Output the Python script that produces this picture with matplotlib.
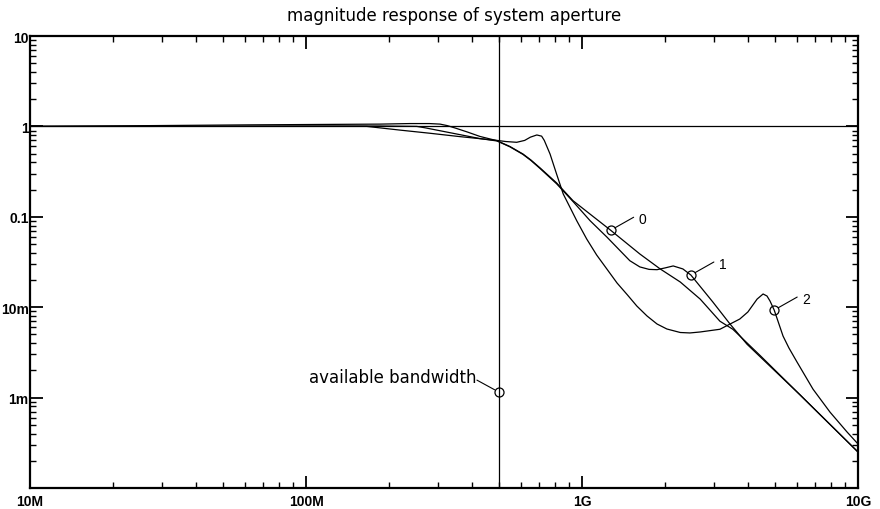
import matplotlib
matplotlib.use("Agg")
import matplotlib.pyplot as plt
from matplotlib.ticker import FixedLocator, LogLocator, NullFormatter

# ---- data ----
f0 = [1.0e7, 2.72e7, 6.27e7, 1.85e8, 2.38e8, 2.8e8, 3.06e8, 3.25e8, 3.47e8, 3.83e8,
      4.27e8, 4.92e8, 5.48e8, 6.11e8, 6.53e8, 7.05e8, 8.09e8, 9.27e8, 1.07e9, 1.27e9,
      1.62e9, 1.92e9, 2.27e9, 2.68e9, 3.16e9, 3.52e9, 4.42e9, 6.17e9, 1.0e10]
m0 = [1.0, 1.02, 1.04, 1.06, 1.075, 1.075, 1.06, 1.02, 0.96, 0.87,
      0.774, 0.695, 0.599, 0.495, 0.425, 0.347, 0.237, 0.151, 0.107, 0.071,
      0.0388, 0.0265, 0.019, 0.0123, 0.007, 0.0057, 0.00292, 0.00107, 0.00025]

f1 = [1.0e7, 2.72e7, 1.0e8, 1.85e8, 2.52e8, 2.7e8, 3.33e8, 4.27e8, 4.92e8, 5.48e8,
      6.11e8, 6.53e8, 7.05e8, 8.09e8, 9.27e8, 1.07e9, 1.23e9, 1.49e9, 1.62e9, 1.75e9,
      1.87e9, 2.0e9, 2.14e9, 2.32e9, 2.48e9, 2.98e9, 3.44e9, 3.96e9, 6.17e9, 1.0e10]
m1 = [1.0, 1.0, 1.01, 1.01, 1.0, 0.965, 0.851, 0.733, 0.69, 0.595,
      0.49, 0.42, 0.342, 0.232, 0.148, 0.0905, 0.0598, 0.0327, 0.0279, 0.0262,
      0.026, 0.0272, 0.0286, 0.0265, 0.0227, 0.0114, 0.0065, 0.0039, 0.00107, 0.00025]

f2 = [1.0e7, 2.72e7, 1.0e8, 1.66e8, 2.19e8, 2.81e8, 3.62e8, 4.92e8, 5.3e8, 5.8e8,
      6.2e8, 6.5e8, 6.86e8, 7.14e8, 7.3e8, 7.66e8, 8.09e8, 8.55e8, 9.05e8, 9.57e8,
      1.04e9, 1.13e9, 1.23e9, 1.34e9, 1.46e9, 1.58e9, 1.72e9, 1.87e9, 2.03e9, 2.27e9,
      2.46e9, 2.68e9, 3.16e9, 3.73e9, 3.99e9, 4.31e9, 4.53e9, 4.68e9, 4.80e9, 4.97e9,
      5.13e9, 5.35e9, 5.62e9, 6.01e9, 6.87e9, 7.92e9, 9.13e9, 1.0e10]
m2 = [1.0, 1.0, 1.0, 1.0, 0.91, 0.84, 0.77, 0.70, 0.68, 0.667,
      0.70, 0.76, 0.804, 0.78, 0.70, 0.495, 0.297, 0.179, 0.127, 0.0905,
      0.0568, 0.0378, 0.0265, 0.0185, 0.0137, 0.0103, 0.0080, 0.00652, 0.00574, 0.00525,
      0.00519, 0.00532, 0.0057, 0.0074, 0.00885, 0.0123, 0.0140, 0.0133, 0.0117, 0.0093,
      0.0070, 0.0048, 0.00354, 0.00248, 0.00124, 0.00069, 0.000416, 0.000307]

series_f = [f0, f1, f2]
series_m = [m0, m1, m2]

marker_labels = ["0", "1", "2"]
marker_f = [1.27e9, 2.48e9, 4.97e9]
marker_m = [0.071, 0.0227, 0.0093]

bandwidth_f = 5.0e8
bandwidth_marker_m = 1.15e-3
bandwidth_label = "available bandwidth"
reference_level = 1.0

x_ticks = [1e7, 1e8, 1e9, 1e10]
x_ticklabels = ["10M", "100M", "1G", "10G"]
y_ticks = [1e-4, 1e-3, 1e-2, 1e-1, 1, 10]
y_ticklabels = ["", "1m", "10m", "0.1", "1", "10"]

title = "magnitude response of system aperture"

# ---- plot ----
fig = plt.figure(figsize=(8.8, 5.1), dpi=100)
ax = fig.add_axes([30/880, 1-489/510, (858-30)/880, (489-37)/510])
ax.set_xscale("log")
ax.set_yscale("log")
ax.set_xlim(1e7, 1e10)
ax.set_ylim(1e-4, 10)

ax.axhline(reference_level, color="black", lw=0.9)
ax.axvline(bandwidth_f, color="black", lw=0.9)

for f, m in zip(series_f, series_m):
    ax.plot(f, m, color="black", lw=0.9, solid_joinstyle="round", antialiased=True)

px = 0.72
for lab, xf, ym in zip(marker_labels, marker_f, marker_m):
    ax.plot([xf], [ym], "o", ms=6.5, mfc="none", mec="black", mew=0.9)
    ax.annotate("", xy=(xf, ym), xytext=(23*px, 13*px), textcoords="offset points",
                arrowprops=dict(arrowstyle="-", color="black", lw=0.8, shrinkA=0, shrinkB=3.4))
    ax.annotate(lab, xy=(xf, ym), xytext=(28*px, 13*px), textcoords="offset points",
                ha="left", va="center_baseline",
                family=["Liberation Sans", "DejaVu Sans"], size=10)

ax.plot([bandwidth_f], [bandwidth_marker_m], "o", ms=6.5, mfc="none", mec="black", mew=0.9)
ax.annotate("", xy=(bandwidth_f, bandwidth_marker_m), xytext=(-22*px, 12*px),
            textcoords="offset points",
            arrowprops=dict(arrowstyle="-", color="black", lw=0.8, shrinkA=0, shrinkB=3.4))
ax.annotate(bandwidth_label, xy=(bandwidth_f, bandwidth_marker_m), xytext=(-22*px, 10*px),
            textcoords="offset points", ha="right", va="baseline",
            family="DejaVu Sans", size=12)

fig.text(454/880, 1-21/510, title, ha="center", va="baseline",
         family="DejaVu Sans", size=12)

# ticks
ax.xaxis.set_major_locator(FixedLocator(x_ticks))
ax.set_xticklabels(x_ticklabels)
ax.yaxis.set_major_locator(FixedLocator(y_ticks))
ax.set_yticklabels(y_ticklabels)
ax.xaxis.set_minor_locator(LogLocator(base=10, subs=range(2, 10), numticks=20))
ax.yaxis.set_minor_locator(LogLocator(base=10, subs=range(2, 10), numticks=20))
ax.xaxis.set_minor_formatter(NullFormatter())
ax.yaxis.set_minor_formatter(NullFormatter())
ax.tick_params(which="both", direction="in", top=True, right=True, color="black")
ax.tick_params(which="major", length=9, width=1.3)
ax.tick_params(which="minor", length=4.5, width=1.0)
ax.tick_params(axis="x", which="major", pad=4)
ax.tick_params(axis="y", which="major", pad=1)
for lbl in ax.get_xticklabels() + ax.get_yticklabels():
    lbl.set_family(["Liberation Sans", "DejaVu Sans"])
    lbl.set_fontweight("bold")
    lbl.set_fontsize(10)
for sp in ax.spines.values():
    sp.set_linewidth(1.6)

fig.savefig("out.png", dpi=100)
